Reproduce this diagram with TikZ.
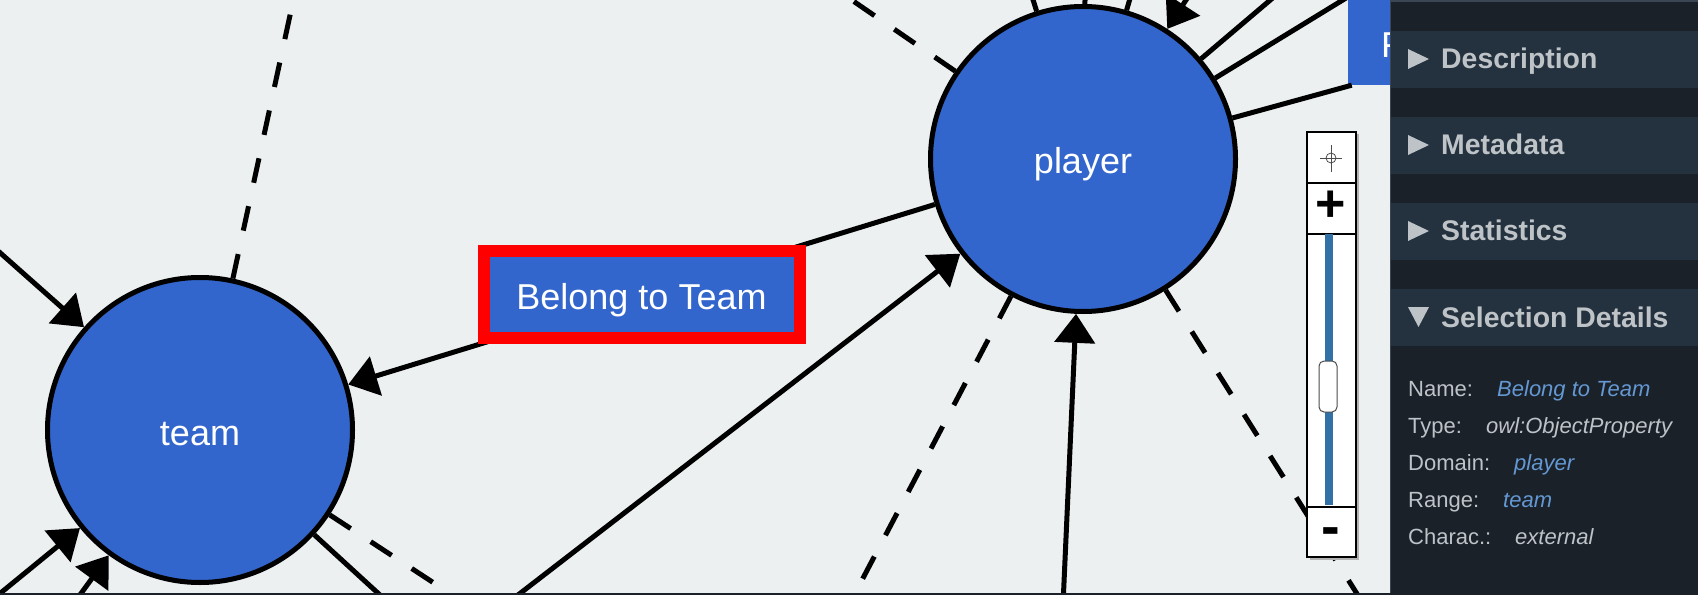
\documentclass[tikz,border=0pt]{standalone}
\usepackage{fontspec}
\setmainfont{Liberation Sans}
\usetikzlibrary{arrows.meta, positioning}

\definecolor{canvas}{RGB}{236,240,241}
\definecolor{classblue}{RGB}{51,102,204}
\definecolor{panel}{RGB}{27,33,41}
\definecolor{panelhead}{RGB}{36,49,62}
\definecolor{panelline}{RGB}{58,70,84}
\definecolor{paneltext}{RGB}{189,195,199}
\definecolor{linkblue}{RGB}{100,152,210}
\definecolor{slidercol}{RGB}{50,112,168}

\begin{document}
\begin{tikzpicture}[
x=1bp, y=-1bp,
every node/.style={font=\fontsize{36bp}{44bp}\selectfont},
class/.style={
    circle,
    draw=black,
    line width=5bp,
    fill=classblue,
    text=white,
    minimum size=305bp,
    inner sep=0pt,
    text height=30bp,
    text depth=0pt
},
prop/.style={
    rectangle,
    fill=classblue,
    text=white,
    inner sep=0pt,
    text height=31bp,
    text depth=0pt
},
selected/.style={
    draw=red,
    line width=12bp,
    minimum width=316bp,
    minimum height=86bp
},
link/.style={line width=5bp},
arrow/.style={
    link,
    -{Triangle[length=29bp, width=40bp]}
},
dashedlink/.style={link, dash pattern=on 25bp off 24bp},
header/.style={font=\fontsize{28.4bp}{34bp}\selectfont\bfseries, text=paneltext, anchor=base west, inner sep=0pt},
key/.style={font=\fontsize{22bp}{26bp}\selectfont, text=paneltext, anchor=base west, inner sep=0pt},
value/.style={key, font=\fontsize{22bp}{26bp}\selectfont\itshape}
]

\fill[canvas] (0,0) rectangle (1698,595);
\useasboundingbox (0,0) rectangle (1698,595);
\clip (0,0) rectangle (1698,595);

\node (player) [class] at (1083,159) {player};
\node (team) [class] at (200,430) {team};
\node (plays) [prop, minimum width=322bp, minimum height=86bp, text width=256bp,
    inner xsep=33bp, align=left] at (1509,42) {F};

\coordinate (teamup) at (312,-86);
\coordinate (teamnw) at (-82,180);
\coordinate (teamsw) at (-90,667);
\coordinate (teamssw) at (18,680);
\coordinate (teamse) at (440,650);
\coordinate (teamsse) at (599,691);
\coordinate (playersw) at (448,649);
\coordinate (playerssw) at (820,660);
\coordinate (playerbelow) at (1062,627);
\coordinate (playerse) at (1405,670);
\coordinate (playernw) at (763,-61);
\coordinate (playern) at (1008,-80);
\coordinate (playertop) at (1086,-80);
\coordinate (playernne) at (1153,-80);
\coordinate (playerin) at (1221,-54);
\coordinate (playerne) at (1321,-43);
\coordinate (playerene) at (1418,-46);

\draw [arrow] (player) -- node [prop, selected] {Belong to Team} (team);
\draw [dashedlink] (team) -- (teamup);
\draw [arrow] (teamnw) -- (team);
\draw [arrow] (teamsw) -- (team);
\draw [arrow] (teamssw) -- (team);
\draw [link] (team) -- (teamse);
\draw [dashedlink] (team) -- (teamsse);
\draw [arrow] (playersw) -- (player);
\draw [dashedlink] (player) -- (playerssw);
\draw [arrow] (playerbelow) -- (player);
\draw [dashedlink] (player) -- (playerse);
\draw [dashedlink] (player) -- (playernw);
\draw [link] (player) -- (playern);
\draw [link] (player) -- (playertop);
\draw [link] (player) -- (playernne);
\draw [arrow] (playerin) -- (player);
\draw [link] (player) -- (playerne);
\draw [link] (player) -- (playerene);
\draw [link] (player) -- (plays);

% zoom control
\fill[black!30] (1309.5,134.5) rectangle (1358.5,559.5);
\draw[fill=white, line width=1.2bp] (1307,132) rectangle (1356,557);
\draw[line width=1.6bp] (1307,183) -- (1356,183);
\draw[line width=1.6bp] (1307,234) -- (1356,234);
\draw[line width=1.6bp] (1307,507) -- (1356,507);
\draw[black!70, line width=0.8bp] (1331,158) circle (5);
\draw[black!70, line width=0.8bp] (1320,158) -- (1342,158) (1331,145) -- (1331,172);
\node (zoomin) [font=\fontsize{52bp}{52bp}\selectfont\bfseries] at (1331,206) {+};
\fill[slidercol] (1325,234) rectangle (1333,505);
\draw[fill=white, draw=black!70, line width=1bp, rounded corners=5bp] (1319,361) rectangle (1337,412);
\node (zoomout) [font=\fontsize{56bp}{56bp}\selectfont\bfseries] at (1331,537) {-};

% side panel
\fill[panel] (1390,0) rectangle (1698,595);
\draw[panelline, line width=1.2bp] (1391,1) -- (1698,1);
\draw[panelline, line width=1bp] (1390.5,0) -- (1390.5,595);
\fill[panelhead] (1391,31) rectangle (1698,88);
\fill[panelhead] (1391,117) rectangle (1698,174);
\fill[panelhead] (1391,203) rectangle (1698,260);
\fill[panelhead] (1391,289) rectangle (1698,346);
\fill[paneltext] (1408,49) -- (1429,59) -- (1408,69) -- cycle;
\fill[paneltext] (1408,135) -- (1429,145) -- (1408,155) -- cycle;
\fill[paneltext] (1408,221) -- (1429,231) -- (1408,241) -- cycle;
\fill[paneltext] (1408,307) -- (1429,307) -- (1418.5,327) -- cycle;
\node (desc) [header] at (1441,69) {Description};
\node (meta) [header] at (1441,155) {Metadata};
\node (stats) [header] at (1441,241) {Statistics};
\node (details) [header] at (1441,327) {Selection Details};

\node (namekey) [key] at (1408,396) {Name:};
\node (nameval) [value, text=linkblue] at (1497,396) {Belong to Team};
\node (typekey) [key] at (1408,433) {Type:};
\node (typeval) [value] at (1486,433) {owl:ObjectProperty};
\node (domkey) [key] at (1408,470) {Domain:};
\node (domval) [value, text=linkblue] at (1514,470) {player};
\node (rangekey) [key] at (1408,507) {Range:};
\node (rangeval) [value, text=linkblue] at (1503,507) {team};
\node (charkey) [key] at (1408,544) {Charac.:};
\node (charval) [value] at (1515,544) {external};

\fill[panel] (0,593) rectangle (1698,595);

\end{tikzpicture}
\end{document}
